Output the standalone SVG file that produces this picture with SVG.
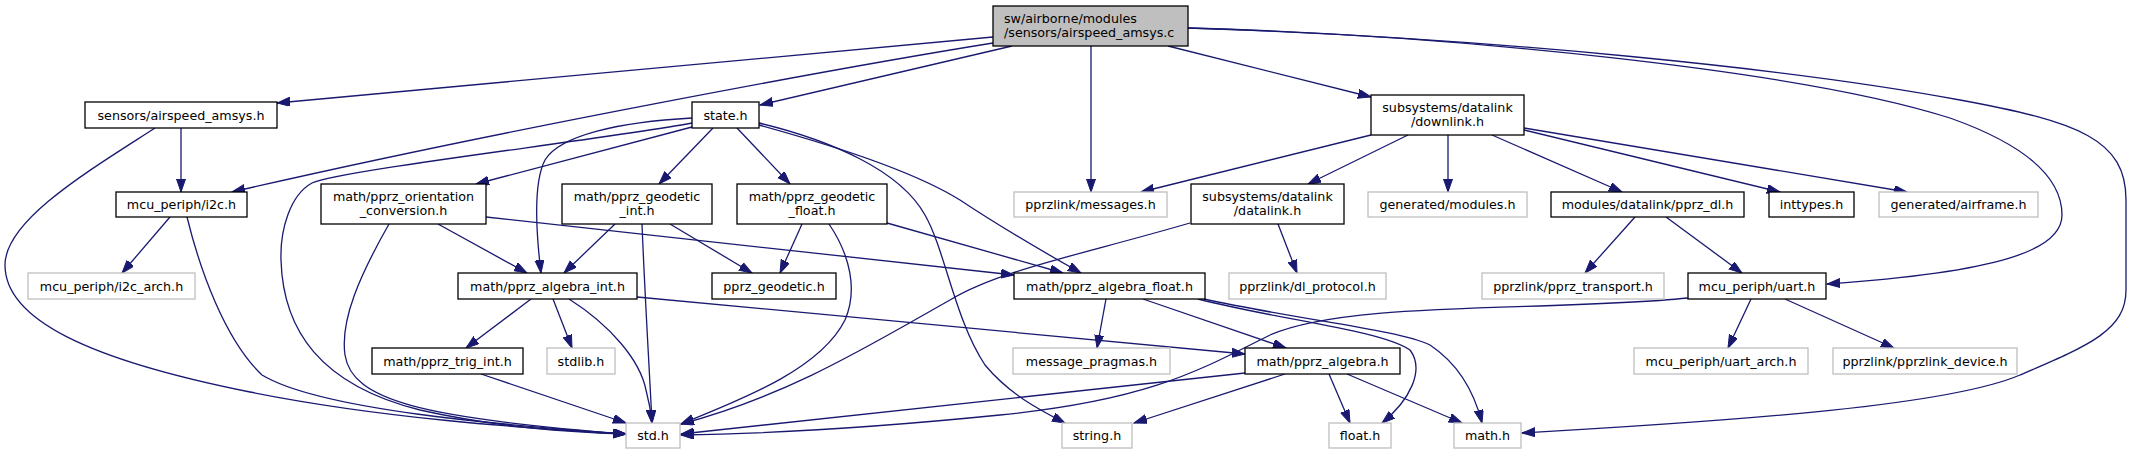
<svg xmlns="http://www.w3.org/2000/svg" width="2132" height="455" viewBox="0 0 2132 455">
<defs>
<marker id="a" markerUnits="userSpaceOnUse" markerWidth="14" markerHeight="10" refX="13" refY="4.5" orient="auto">
<path d="M0,0 L13,4.5 L0,9 z" fill="#191970" stroke="#191970" stroke-width="1"/>
</marker>
<style>
rect{fill:#fff;stroke:#000;stroke-width:1.3}
.g rect{stroke:#bfbfbf}
.m rect{fill:#bfbfbf}
text{font-family:"DejaVu Sans","Liberation Sans",sans-serif;font-size:12.7px;fill:#000;text-anchor:middle}
.m text{text-anchor:start}
#edges path{fill:none;stroke:#191970;stroke-width:1.3;marker-end:url(#a)}
</style>
</defs>
<rect x="0" y="0" width="2132" height="455" style="fill:#fff;stroke:none"/>
<g id="edges">
<path d="M993,37 L277,103"/>
<path d="M993,43 C850,66 500,130 232,192"/>
<path d="M1012,46 L760,105"/>
<path d="M1091,46 L1091,192"/>
<path d="M1168,46 L1371,97"/>
<path d="M1188,28 C1450,35 1800,70 1950,118 C2040,150 2062,185 2062,215 C2062,250 2000,272 1827,284"/>
<path d="M1188,28 C1500,38 1800,70 1960,100 C2080,122 2126,140 2126,200 L2126,290 C2126,330 2090,345 2020,375 C1950,405 1750,420 1522,433"/>
<path d="M181,128 L181,192"/>
<path d="M155,128 C90,170 5,220 5,265 C5,320 90,360 250,392 C380,418 520,428 626,434"/>
<path d="M170,217 L122,273"/>
<path d="M187,217 C200,270 225,340 262,375 C320,410 500,425 626,434"/>
<path d="M692,127 L476,184"/>
<path d="M713,128 L659,184"/>
<path d="M692,118 C620,122 560,135 545,160 C532,185 537,240 541,273"/>
<path d="M692,123 C600,140 340,170 312,183 C290,195 280,230 281,260 C283,330 320,385 420,410 C500,428 570,432 626,434"/>
<path d="M737,128 L790,184"/>
<path d="M759,123 C830,140 900,170 925,215 C945,250 955,320 985,365 C1010,395 1040,410 1065,423"/>
<path d="M759,125 C850,150 920,175 960,200 C990,220 1040,250 1081,273"/>
<path d="M438,224 L527,273"/>
<path d="M389,224 C360,275 340,320 345,355 C352,400 420,418 626,434"/>
<path d="M486,217 L1014,275"/>
<path d="M615,224 L564,273"/>
<path d="M642,224 C645,300 650,380 652,423"/>
<path d="M670,224 L752,273"/>
<path d="M802,224 L780,273"/>
<path d="M829,224 C850,255 858,290 845,320 C820,370 740,400 681,424"/>
<path d="M887,223 L1063,273"/>
<path d="M531,299 L466,348"/>
<path d="M553,299 L572,348"/>
<path d="M569,299 C610,325 640,360 646,390 C650,405 651,413 652,423"/>
<path d="M637,297 L1245,354"/>
<path d="M481,374 L626,423"/>
<path d="M1106,299 L1097,348"/>
<path d="M1143,299 L1286,348"/>
<path d="M1198,299 C1280,320 1380,330 1410,350 C1425,370 1410,400 1382,423"/>
<path d="M1204,299 C1300,320 1400,330 1430,345 C1460,365 1475,395 1482,423"/>
<path d="M1245,373 C1000,398 800,420 681,434"/>
<path d="M1285,374 L1134,423"/>
<path d="M1329,374 L1350,423"/>
<path d="M1347,374 L1462,423"/>
<path d="M1371,135 L1141,192"/>
<path d="M1408,135 L1308,184"/>
<path d="M1448,135 L1448,192"/>
<path d="M1492,135 L1622,192"/>
<path d="M1524,130 L1780,192"/>
<path d="M1524,128 L1907,192"/>
<path d="M1190,223 C1080,255 1000,270 950,300 C870,345 790,395 681,424"/>
<path d="M1278,224 L1297,273"/>
<path d="M1635,217 L1585,273"/>
<path d="M1666,217 L1742,273"/>
<path d="M1688,298 C1550,312 1350,300 1270,335 C1200,370 1150,400 1000,415 C850,430 750,434 681,435"/>
<path d="M1751,299 L1728,348"/>
<path d="M1785,299 L1894,348"/>
</g>
<g id="n_main" class="m"><rect x="993" y="6" width="195" height="40"/><text x="1004" y="22.5">sw/airborne/modules</text><text x="1004" y="37">/sensors/airspeed_amsys.c</text></g>
<g id="n_sensors"><rect x="85" y="102" width="192" height="26"/><text x="181" y="119.5">sensors/airspeed_amsys.h</text></g>
<g id="n_state"><rect x="692" y="102" width="67" height="26"/><text x="725.5" y="119.5">state.h</text></g>
<g id="n_i2c"><rect x="116" y="192" width="131" height="25"/><text x="181.5" y="209">mcu_periph/i2c.h</text></g>
<g id="n_orient"><rect x="321" y="184" width="165" height="40"/><text x="403.5" y="200.5">math/pprz_orientation</text><text x="403.5" y="215">_conversion.h</text></g>
<g id="n_geoint"><rect x="562" y="184" width="150" height="40"/><text x="637" y="200.5">math/pprz_geodetic</text><text x="637" y="215">_int.h</text></g>
<g id="n_geofloat"><rect x="737" y="184" width="150" height="40"/><text x="812" y="200.5">math/pprz_geodetic</text><text x="812" y="215">_float.h</text></g>
<g id="n_messages" class="g"><rect x="1014" y="192" width="153" height="25"/><text x="1090.5" y="209">pprzlink/messages.h</text></g>
<g id="n_datalink"><rect x="1191" y="184" width="153" height="40"/><text x="1267.5" y="200.5">subsystems/datalink</text><text x="1267.5" y="215">/datalink.h</text></g>
<g id="n_downlink"><rect x="1371" y="95" width="153" height="40"/><text x="1447.5" y="111.5">subsystems/datalink</text><text x="1447.5" y="126">/downlink.h</text></g>
<g id="n_modules" class="g"><rect x="1368" y="192" width="159" height="25"/><text x="1447.5" y="209">generated/modules.h</text></g>
<g id="n_pprzdl"><rect x="1551" y="192" width="193" height="25"/><text x="1647.5" y="209">modules/datalink/pprz_dl.h</text></g>
<g id="n_inttypes"><rect x="1769" y="192" width="85" height="25"/><text x="1811.5" y="209">inttypes.h</text></g>
<g id="n_airframe" class="g"><rect x="1879" y="192" width="159" height="25"/><text x="1958.5" y="209">generated/airframe.h</text></g>
<g id="n_i2carch" class="g"><rect x="28" y="273" width="167" height="26"/><text x="111.5" y="290.5">mcu_periph/i2c_arch.h</text></g>
<g id="n_algint"><rect x="458" y="273" width="179" height="26"/><text x="547.5" y="290.5">math/pprz_algebra_int.h</text></g>
<g id="n_geodetic"><rect x="712" y="273" width="124" height="26"/><text x="774" y="290.5">pprz_geodetic.h</text></g>
<g id="n_algfloat"><rect x="1014" y="273" width="191" height="26"/><text x="1109.5" y="290.5">math/pprz_algebra_float.h</text></g>
<g id="n_dlproto" class="g"><rect x="1229" y="273" width="157" height="26"/><text x="1307.5" y="290.5">pprzlink/dl_protocol.h</text></g>
<g id="n_transport" class="g"><rect x="1482" y="273" width="182" height="26"/><text x="1573" y="290.5">pprzlink/pprz_transport.h</text></g>
<g id="n_uart"><rect x="1688" y="273" width="138" height="26"/><text x="1757" y="290.5">mcu_periph/uart.h</text></g>
<g id="n_trig"><rect x="372" y="348" width="151" height="26"/><text x="447.5" y="365.5">math/pprz_trig_int.h</text></g>
<g id="n_stdlib" class="g"><rect x="547" y="348" width="68" height="26"/><text x="581" y="365.5">stdlib.h</text></g>
<g id="n_pragmas" class="g"><rect x="1013" y="348" width="157" height="26"/><text x="1091.5" y="365.5">message_pragmas.h</text></g>
<g id="n_algebra"><rect x="1245" y="348" width="155" height="26"/><text x="1322.5" y="365.5">math/pprz_algebra.h</text></g>
<g id="n_uartarch" class="g"><rect x="1634" y="348" width="174" height="26"/><text x="1721" y="365.5">mcu_periph/uart_arch.h</text></g>
<g id="n_device" class="g"><rect x="1833" y="348" width="184" height="26"/><text x="1925" y="365.5">pprzlink/pprzlink_device.h</text></g>
<g id="n_std" class="g"><rect x="626" y="423" width="54" height="25"/><text x="653" y="440">std.h</text></g>
<g id="n_string" class="g"><rect x="1062" y="423" width="70" height="25"/><text x="1097" y="440">string.h</text></g>
<g id="n_float" class="g"><rect x="1329" y="423" width="62" height="25"/><text x="1360" y="440">float.h</text></g>
<g id="n_math" class="g"><rect x="1454" y="423" width="67" height="25"/><text x="1487.5" y="440">math.h</text></g>
</svg>
